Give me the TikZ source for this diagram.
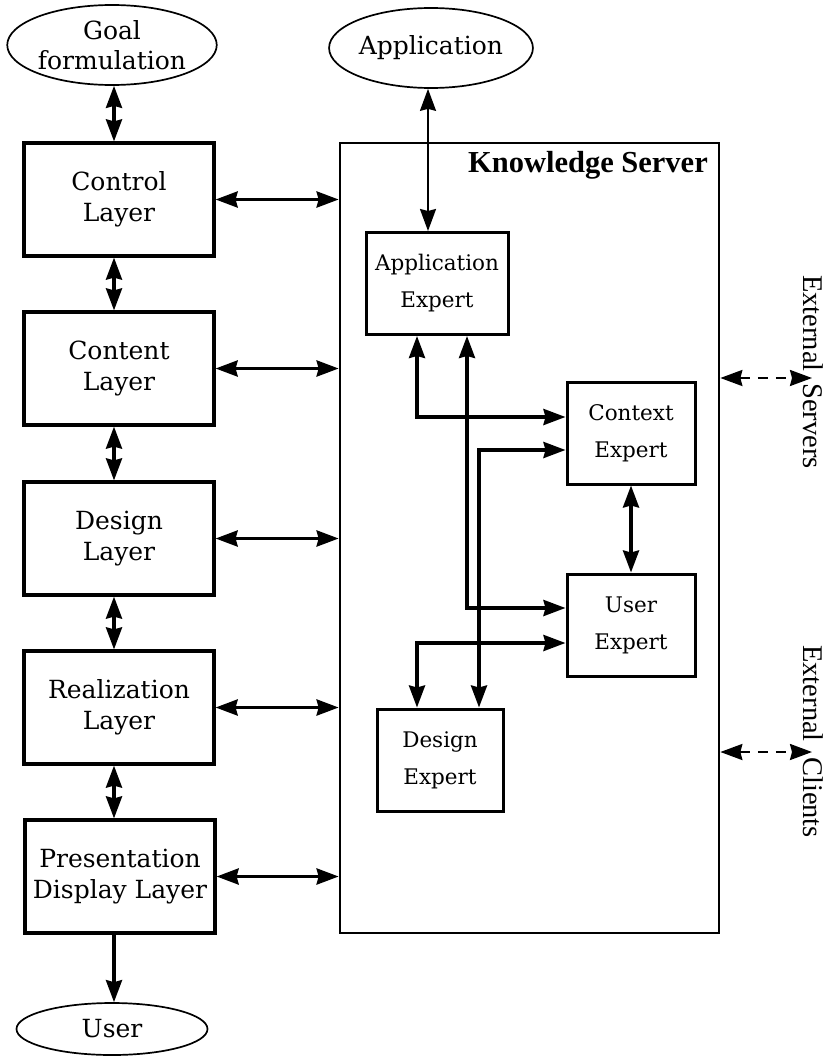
\documentclass[tikz,border=0pt]{standalone}
\usepackage{fontspec}
\setmainfont{DejaVu Serif}
\newfontfamily\timesfont{Liberation Serif}
\usetikzlibrary{arrows.meta,shapes.geometric}

\begin{document}
\begin{tikzpicture}[x=1pt,y=-1pt,
  >={Stealth[length=22pt,width=16pt,inset=2pt]},
  layerbox/.style={draw, line width=3.2pt, minimum width=190pt, minimum height=113pt,
    inner sep=0pt, align=center, font=\fontsize{25}{31}\selectfont},
  expertbox/.style={draw, line width=3pt, minimum height=102pt,
    inner sep=0pt, align=center, font=\fontsize{21.5}{37}\selectfont},
  oval/.style={draw, ellipse, line width=1.7pt, inner sep=0pt, align=center,
    font=\fontsize{25}{30}\selectfont},
  ksbox/.style={draw, line width=2.7pt, minimum width=379pt, minimum height=790pt, inner sep=0pt},
  thick link/.style={<->, line width=3.4pt},
  thin link/.style={<->, line width=1.9pt},
  ext link/.style={<->, line width=2.3pt, dash pattern=on 10pt off 8pt},
  sidelabel/.style={rotate=-90, inner sep=0pt, font=\timesfont\fontsize{28.5}{30}\selectfont}
]
\useasboundingbox (0,0) rectangle (827,1057);

% end nodes
\node[oval, minimum width=204pt, minimum height=80pt] (goal) at (112,45) {Goal\\formulation};
\node[oval, minimum width=192pt, minimum height=80pt] (appl) at (431,48) {Application};
\node[oval, minimum width=191pt, minimum height=52pt] (user) at (112,1029) {User};

% layer stack
\node[layerbox] (ctl)  at (119,199.5) {Control\\Layer};
\node[layerbox] (cnt)  at (119,368.5) {Content\\Layer};
\node[layerbox] (dsg)  at (119,538.5) {Design\\Layer};
\node[layerbox] (rlz)  at (119,707.5) {Realization\\Layer};
\node[layerbox] (pres) at (120,876.5) {Presentation\\Display Layer};

% knowledge server and its experts
\node[ksbox] (ks) at (529.5,538) {};
\node[anchor=base east, inner sep=0pt, font=\timesfont\bfseries\fontsize{30.5}{32}\selectfont]
  (kstitle) at (708,172) {Knowledge Server};
\node[expertbox, minimum width=142pt] (app) at (437,283.5) {Application\\Expert};
\node[expertbox, minimum width=128pt] (ctx) at (631,433) {Context\\Expert};
\node[expertbox, minimum width=128pt] (usr) at (631,625) {User\\Expert};
\node[expertbox, minimum width=126pt] (des) at (440,760) {Design\\Expert};

% routing columns and rows
\coordinate (colx) at (114,0);
\coordinate (ax) at (428,0);
\coordinate (k1) at (417,417);
\coordinate (k2) at (467,608);
\coordinate (k3) at (479,450);
\coordinate (k4) at (417,643);
\coordinate (es) at (812,378);
\coordinate (ec) at (812,752);

% vertical links along the layer stack
\draw[thick link] (goal.south -| colx) -- (ctl.north -| colx);
\draw[thick link] (ctl.south -| colx) -- (cnt.north -| colx);
\draw[thick link] (cnt.south -| colx) -- (dsg.north -| colx);
\draw[thick link] (dsg.south -| colx) -- (rlz.north -| colx);
\draw[thick link] (rlz.south -| colx) -- (pres.north -| colx);
\draw[->, line width=3.4pt] (pres.south -| colx) -- (user.north -| colx);

% layers to knowledge server
\foreach \n in {ctl,cnt,dsg,rlz,pres}
  \draw[thick link] (\n.east) -- (\n.east -| ks.west);

% application link
\draw[thin link] (appl.south -| ax) -- (app.north -| ax);

% expert links
\draw[thick link] (app.south -| k1) |- (ctx.west |- k1);
\draw[thick link] (app.south -| k2) |- (usr.west |- k2);
\draw[thick link] (ctx.west |- k3) -| (des.north -| k3);
\draw[thick link] (ctx.south) -- (usr.north);
\draw[thick link] (usr.west |- k4) -| (des.north -| k4);

% external connections
\draw[ext link] (ks.east |- es) -- (es);
\draw[ext link] (ks.east |- ec) -- (ec);
\node[sidelabel, anchor=base east] (extS1) at (803,372) {External};
\node[sidelabel, anchor=base west] (extS2) at (803,383) {Servers};
\node[sidelabel, anchor=base east] (extC1) at (803,742) {External};
\node[sidelabel, anchor=base west] (extC2) at (803,757) {Clients};
\end{tikzpicture}
\end{document}
